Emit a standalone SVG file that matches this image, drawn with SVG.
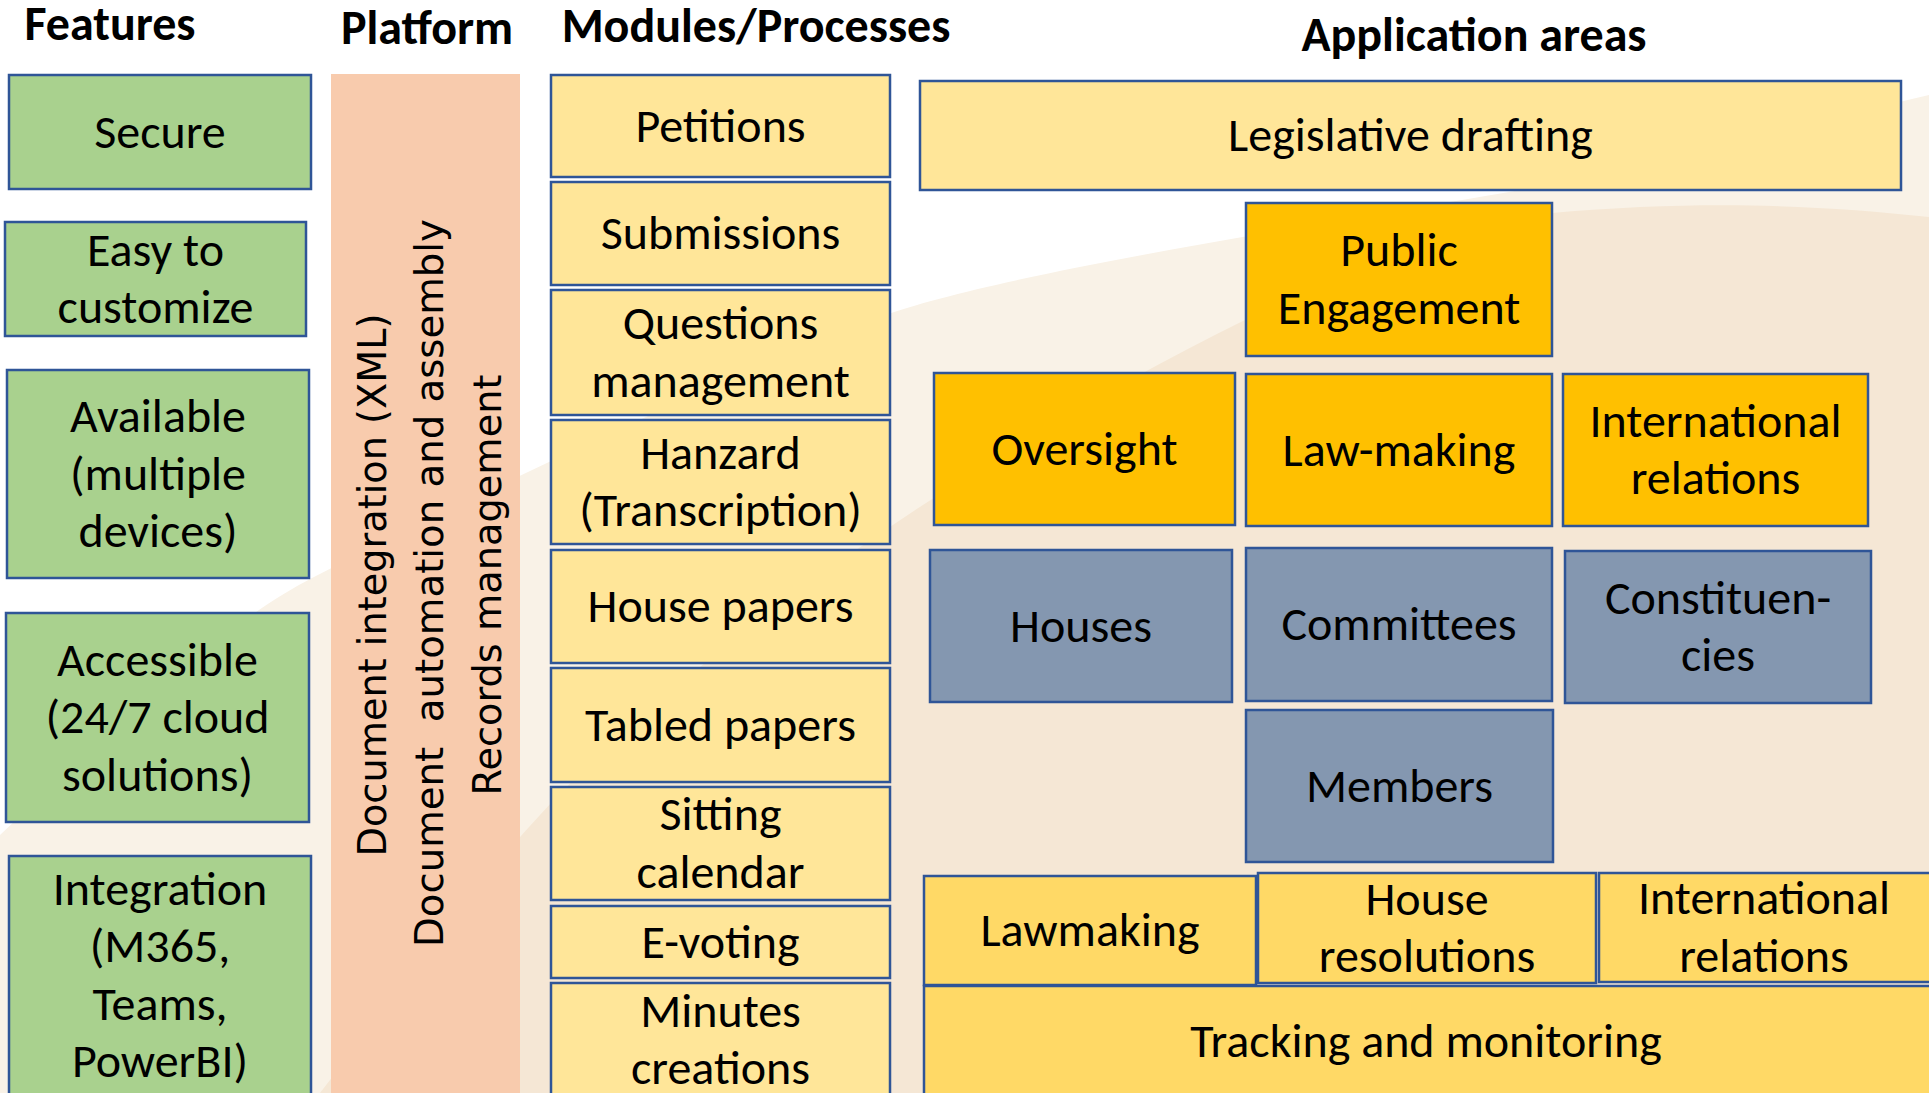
<svg xmlns="http://www.w3.org/2000/svg" width="1929" height="1093" viewBox="0 0 1929 1093">
<style>
.box{stroke:#2F5597;stroke-width:2.5}
.green{fill:#A9D18E}
.mod{fill:#FFE699}
.gold{fill:#FFC000}
.slate{fill:#8497B0}
.yel{fill:#FFD966}
.lbl{font-family:Carlito,"Liberation Sans Narrow","Liberation Sans",sans-serif;font-size:48px;text-anchor:middle;fill:#000}
.hdr{font-family:Carlito,"Liberation Sans Narrow","Liberation Sans",sans-serif;font-size:48px;font-weight:bold;text-anchor:middle;fill:#000}
.vt{font-family:"DejaVu Sans",Verdana,sans-serif;font-size:39px;text-anchor:middle;fill:#000;white-space:pre}
</style>
<rect width="1929" height="1093" fill="#FFFFFF"/>
<g id="background">
<path d="M0,835 C100,740 220,625 312,578 C500,482 760,362 880,317 C1000,272 1350,220 1509,192 C1650,167 1800,125 1929,95 L1929,1093 L0,1093 Z" fill="#F9F2E7"/>
<path d="M320,1093 C400,990 470,890 540,815 C700,640 1000,440 1245,320 C1380,255 1450,225 1552,213 C1700,200 1820,205 1929,217 L1929,1093 Z" fill="#F5E7D5"/>
</g>
<g id="headers">
<text class="hdr" x="110" y="40">Features</text>
<text class="hdr" x="427" y="44">Platform</text>
<text class="hdr" x="756" y="42">Modules/Processes</text>
<text class="hdr" x="1474" y="51">Application areas</text>
</g>
<g id="connectors"></g>
<g id="feat-secure"><rect class="box green" x="9" y="75" width="302" height="114"/><text class="lbl" x="160" y="147.5">Secure</text></g>
<g id="feat-easy"><rect class="box green" x="5" y="222" width="301" height="114"/><text class="lbl" x="155.5" y="265.75">Easy to</text><text class="lbl" x="155.5" y="323.25">customize</text></g>
<g id="feat-available"><rect class="box green" x="7" y="370" width="302" height="208"/><text class="lbl" x="158" y="432">Available</text><text class="lbl" x="158" y="489.5">(multiple</text><text class="lbl" x="158" y="547">devices)</text></g>
<g id="feat-accessible"><rect class="box green" x="6" y="613" width="303" height="209"/><text class="lbl" x="157.5" y="675.75">Accessible</text><text class="lbl" x="157.5" y="733.25">(24/7 cloud</text><text class="lbl" x="157.5" y="790.75">solutions)</text></g>
<g id="feat-integration"><rect class="box green" x="9" y="856" width="302" height="240"/><text class="lbl" x="160" y="904.75">Integration</text><text class="lbl" x="160" y="962.25">(M365,</text><text class="lbl" x="160" y="1019.75">Teams,</text><text class="lbl" x="160" y="1077.25">PowerBI)</text></g>
<g id="platform"><rect x="331" y="74" width="189" height="1019" fill="#F8CBAD"/>
<text class="vt" transform="translate(386,585) rotate(-90)" x="0" y="0" textLength="543" lengthAdjust="spacingAndGlyphs">Document integration (XML)</text>
<text class="vt" transform="translate(443,583) rotate(-90)" x="0" y="0" textLength="728" lengthAdjust="spacingAndGlyphs">Document  automation and assembly</text>
<text class="vt" transform="translate(501,585) rotate(-90)" x="0" y="0" textLength="421" lengthAdjust="spacingAndGlyphs">Records management</text>
</g>
<g id="mod-petitions"><rect class="box mod" x="551" y="75" width="339" height="102"/><text class="lbl" x="720.5" y="141.5">Petitions</text></g>
<g id="mod-submissions"><rect class="box mod" x="551" y="182" width="339" height="103"/><text class="lbl" x="720.5" y="249">Submissions</text></g>
<g id="mod-questions"><rect class="box mod" x="551" y="290" width="339" height="125"/><text class="lbl" x="720.5" y="339.25">Questions</text><text class="lbl" x="720.5" y="396.75">management</text></g>
<g id="mod-hanzard"><rect class="box mod" x="551" y="420" width="339" height="124"/><text class="lbl" x="720.5" y="468.75">Hanzard</text><text class="lbl" x="720.5" y="526.25">(Transcription)</text></g>
<g id="mod-housepapers"><rect class="box mod" x="551" y="550" width="339" height="113"/><text class="lbl" x="720.5" y="622">House papers</text></g>
<g id="mod-tabled"><rect class="box mod" x="551" y="668" width="339" height="114"/><text class="lbl" x="720.5" y="740.5">Tabled papers</text></g>
<g id="mod-sitting"><rect class="box mod" x="551" y="787" width="339" height="113"/><text class="lbl" x="720.5" y="830.25">Sitting</text><text class="lbl" x="720.5" y="887.75">calendar</text></g>
<g id="mod-evoting"><rect class="box mod" x="551" y="906" width="339" height="72"/><text class="lbl" x="720.5" y="957.5">E-voting</text></g>
<g id="mod-minutes"><rect class="box mod" x="551" y="983" width="339" height="114"/><text class="lbl" x="720.5" y="1026.75">Minutes</text><text class="lbl" x="720.5" y="1084.25">creations</text></g>
<g id="app-legislative"><rect class="box mod" x="920" y="81" width="981" height="109"/><text class="lbl" x="1410.5" y="151">Legislative drafting</text></g>
<g id="app-public"><rect class="box gold" x="1246" y="203" width="306" height="153"/><text class="lbl" x="1399" y="266.25">Public</text><text class="lbl" x="1399" y="323.75">Engagement</text></g>
<g id="app-oversight"><rect class="box gold" x="934" y="373" width="301" height="152"/><text class="lbl" x="1084.5" y="464.5">Oversight</text></g>
<g id="app-lawmaking"><rect class="box gold" x="1246" y="374" width="306" height="152"/><text class="lbl" x="1399" y="465.5">Law-making</text></g>
<g id="app-intl"><rect class="box gold" x="1563" y="374" width="305" height="152"/><text class="lbl" x="1715.5" y="436.75">International</text><text class="lbl" x="1715.5" y="494.25">relations</text></g>
<g id="app-houses"><rect class="box slate" x="930" y="550" width="302" height="152"/><text class="lbl" x="1081" y="641.5">Houses</text></g>
<g id="app-committees"><rect class="box slate" x="1246" y="548" width="306" height="153"/><text class="lbl" x="1399" y="640">Committees</text></g>
<g id="app-constituencies"><rect class="box slate" x="1565" y="551" width="306" height="152"/><text class="lbl" x="1718" y="613.75">Constituen-</text><text class="lbl" x="1718" y="671.25">cies</text></g>
<g id="app-members"><rect class="box slate" x="1246" y="710" width="307" height="152"/><text class="lbl" x="1399.5" y="801.5">Members</text></g>
<g id="app-lawmaking2"><rect class="box yel" x="924" y="876" width="332" height="109"/><text class="lbl" x="1090" y="946">Lawmaking</text></g>
<g id="app-resolutions"><rect class="box yel" x="1258" y="873" width="338" height="110"/><text class="lbl" x="1427" y="914.75">House</text><text class="lbl" x="1427" y="972.25">resolutions</text></g>
<g id="app-intl2"><rect class="box yel" x="1599" y="873" width="333" height="109"/><text class="lbl" x="1764" y="914.25">International</text><text class="lbl" x="1764" y="971.75">relations</text></g>
<g id="app-tracking"><rect class="box yel" x="924" y="986" width="1007" height="111"/><text class="lbl" x="1426" y="1057">Tracking and monitoring</text></g>
</svg>
